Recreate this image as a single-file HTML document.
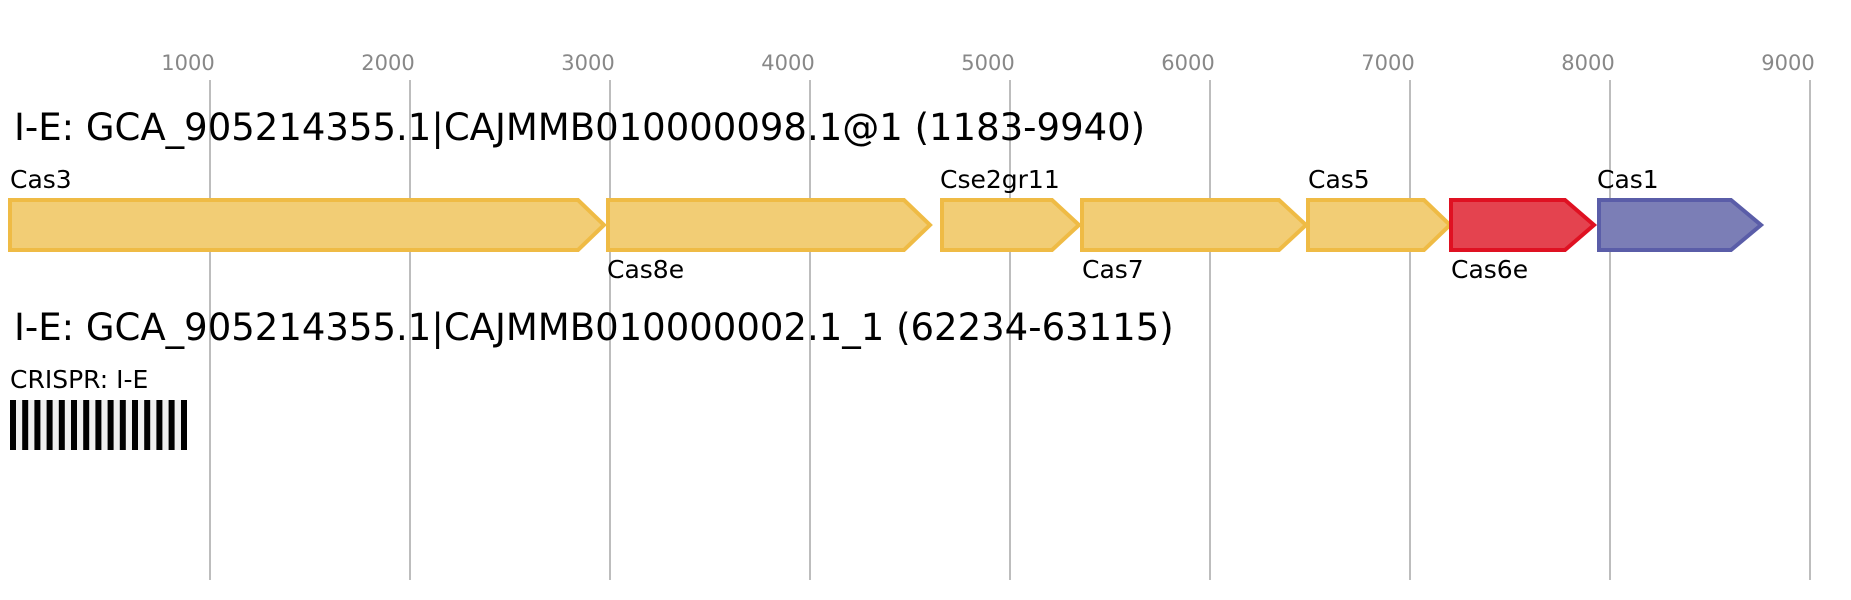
<!DOCTYPE html>
<html><head><meta charset="utf-8"><style>
html,body{margin:0;padding:0;background:#fff;}
svg{display:block;font-family:"DejaVu Sans","Liberation Sans",sans-serif;}
</style></head><body>
<svg width="1851" height="600" viewBox="0 0 1851 600" xmlns="http://www.w3.org/2000/svg">
<g stroke="#bdbdbd" stroke-width="2">
<line x1="210" y1="80" x2="210" y2="580"/>
<line x1="410" y1="80" x2="410" y2="580"/>
<line x1="610" y1="80" x2="610" y2="580"/>
<line x1="810" y1="80" x2="810" y2="580"/>
<line x1="1010" y1="80" x2="1010" y2="580"/>
<line x1="1210" y1="80" x2="1210" y2="580"/>
<line x1="1410" y1="80" x2="1410" y2="580"/>
<line x1="1610" y1="80" x2="1610" y2="580"/>
<line x1="1810" y1="80" x2="1810" y2="580"/>
</g>
<g fill="#888" font-size="21" text-anchor="middle">
<text x="188" y="70">1000</text>
<text x="388" y="70">2000</text>
<text x="588" y="70">3000</text>
<text x="788" y="70">4000</text>
<text x="988" y="70">5000</text>
<text x="1188" y="70">6000</text>
<text x="1388" y="70">7000</text>
<text x="1588" y="70">8000</text>
<text x="1788" y="70">9000</text>
</g>
<text x="14" y="140" font-size="37" fill="#000">I-E: GCA_905214355.1|CAJMMB010000098.1@1 (1183-9940)</text>
<g stroke-width="4" stroke-linejoin="miter">
<polygon points="10,200 578,200 604,225 578,250 10,250" fill="#f2cd75" stroke="#efbb45"/>
<polygon points="608,200 904,200 930,225 904,250 608,250" fill="#f2cd75" stroke="#efbb45"/>
<polygon points="942,200 1052,200 1079,225 1052,250 942,250" fill="#f2cd75" stroke="#efbb45"/>
<polygon points="1082,200 1279,200 1306,225 1279,250 1082,250" fill="#f2cd75" stroke="#efbb45"/>
<polygon points="1308,200 1424,200 1450,225 1424,250 1308,250" fill="#f2cd75" stroke="#efbb45"/>
<polygon points="1451,200 1565,200 1594,225 1565,250 1451,250" fill="#e4434f" stroke="#df1122"/>
<polygon points="1599,200 1731,200 1761,225 1731,250 1599,250" fill="#7b7eb6" stroke="#5a5da8"/>
</g>
<g font-size="25" fill="#000">
<text x="10" y="188">Cas3</text>
<text x="607" y="278">Cas8e</text>
<text x="940" y="188">Cse2gr11</text>
<text x="1082" y="278">Cas7</text>
<text x="1308" y="188">Cas5</text>
<text x="1451" y="278">Cas6e</text>
<text x="1597" y="188">Cas1</text>
</g>
<text x="14" y="340" font-size="37" fill="#000">I-E: GCA_905214355.1|CAJMMB010000002.1_1 (62234-63115)</text>
<text x="10" y="388" font-size="25" fill="#000">CRISPR: I-E</text>
<rect x="10" y="400" width="177" height="50" fill="#f0f0f0"/>
<g fill="#000">
<rect x="10" y="400" width="6" height="50"/><rect x="22.2" y="400" width="6" height="50"/><rect x="34.4" y="400" width="6" height="50"/><rect x="46.6" y="400" width="6" height="50"/><rect x="58.8" y="400" width="6" height="50"/><rect x="71" y="400" width="6" height="50"/><rect x="83.2" y="400" width="6" height="50"/><rect x="95.4" y="400" width="6" height="50"/><rect x="107.6" y="400" width="6" height="50"/><rect x="119.8" y="400" width="6" height="50"/><rect x="132" y="400" width="6" height="50"/><rect x="144.2" y="400" width="6" height="50"/><rect x="156.4" y="400" width="6" height="50"/><rect x="168.6" y="400" width="6" height="50"/><rect x="181" y="400" width="6" height="50"/>
</g>
</svg>
</body></html>
